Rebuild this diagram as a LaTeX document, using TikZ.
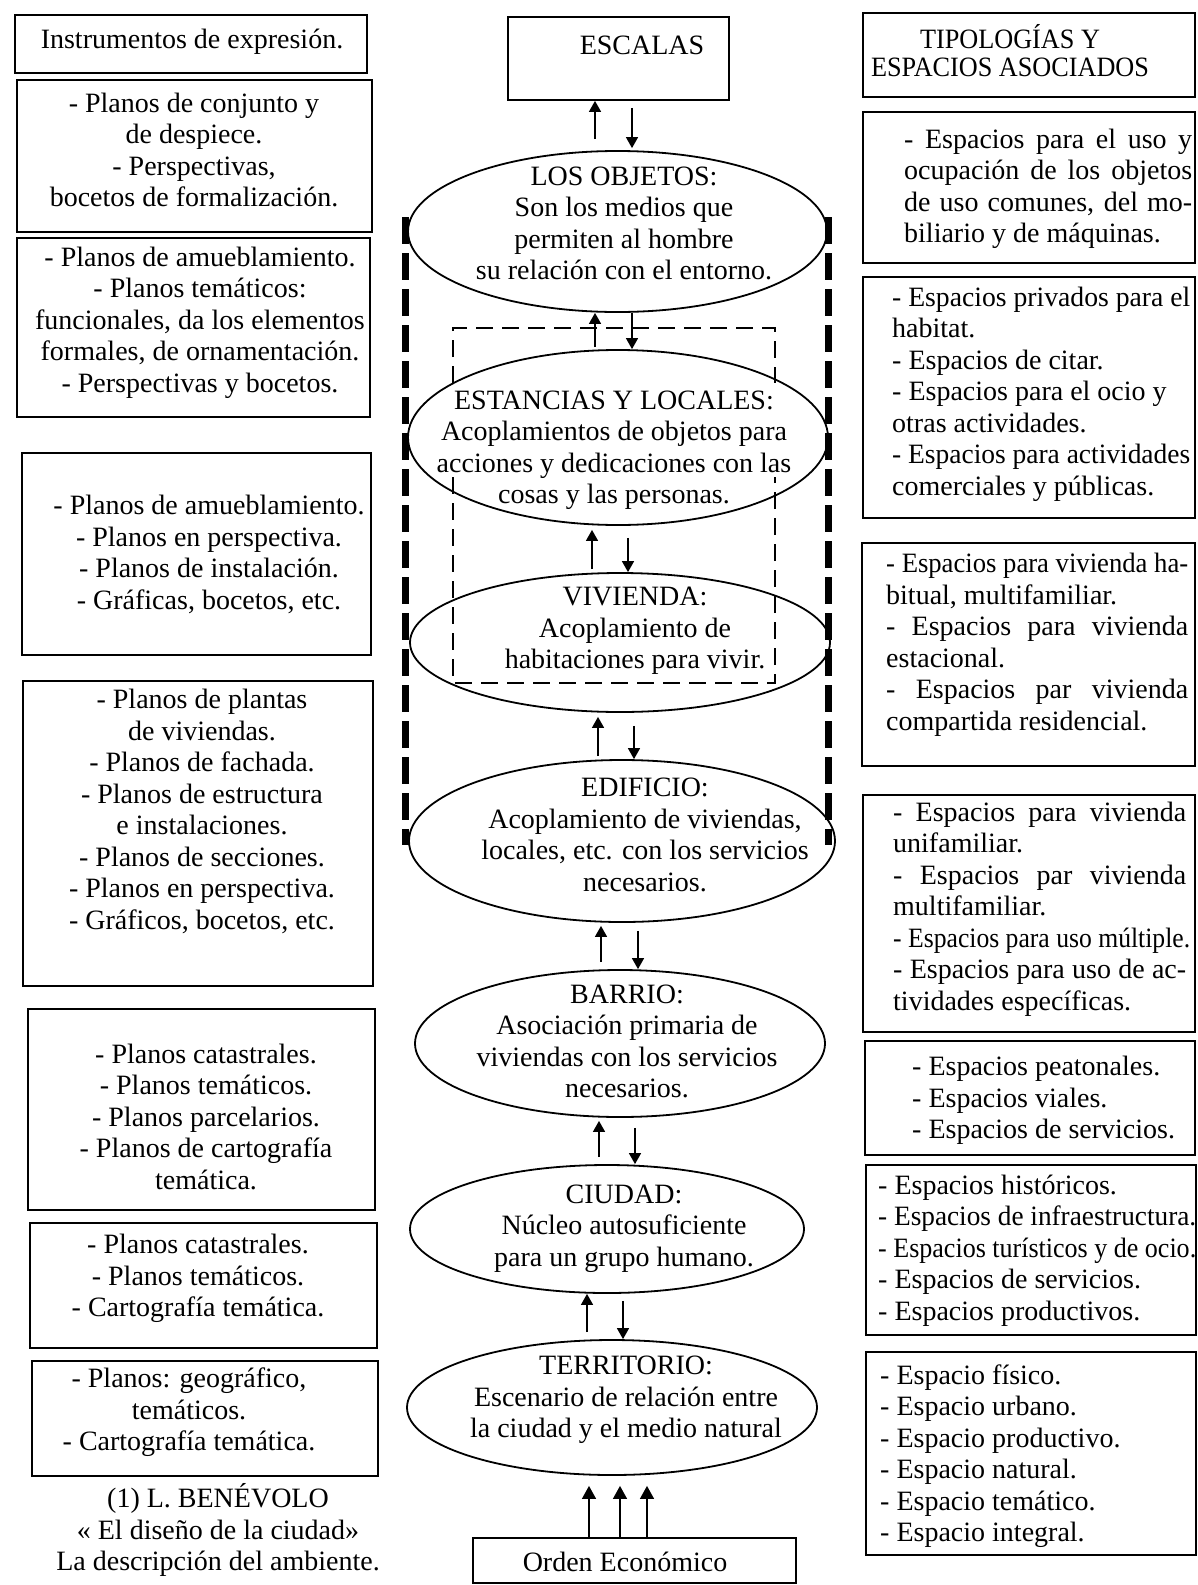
\documentclass[tikz,border=0pt]{standalone}
\usepackage{fontspec}
\usepackage{graphicx}
\setmainfont{Liberation Serif}
\usetikzlibrary{shapes.geometric,arrows.meta,fit}
\newlength\linetmpw
\newcommand\fitto[2]{\settowidth\linetmpw{#2}\ifdim\linetmpw>#1\relax\resizebox{#1}{\height}{#2}\else\makebox[#1][s]{#2}\fi}
\newcommand\capto[2]{\settowidth\linetmpw{#2}\ifdim\linetmpw>#1\relax\resizebox{#1}{\height}{#2}\else#2\fi}
\begin{document}
\begin{tikzpicture}[x=1pt,y=-1pt,
  font=\fontsize{28}{31.5}\selectfont,
  box/.style={draw, line width=1.8pt, inner sep=0pt},
  ell/.style={draw, ellipse, line width=1.8pt, inner sep=0pt},
  txt/.style={inner sep=0pt, align=center},
  ltxt/.style={inner sep=0pt, align=left, anchor=west},
  arr/.style={line width=1.4pt, -{Triangle[length=11pt,width=12pt]}},
  arrbig/.style={line width=1.4pt, -{Triangle[length=13pt,width=14pt]}},
  thickdash/.style={line width=7pt, dash pattern=on 27pt off 9pt},
  thindash/.style={line width=1.8pt, dash pattern=on 17pt off 9pt}]
\fill[white] (0,0) rectangle (1198,1585);
\useasboundingbox (0,0) rectangle (1198,1585);

% ---------- left column ----------
\node[box, fit={(15,15) (367,73)}] (L1) {};
\node[txt] (L1t) at (192,42) {Instrumentos de expresión.};
\node[box, fit={(17,80) (372,232)}] (L2) {};
\node[txt] (L2t) at (194,150) {- Planos de conjunto y\\ de despiece.\\ - Perspectivas,\\ bocetos de formalización.};
\node[box, fit={(17,238) (370,417)}] (L3) {};
\node[txt] (L3t) at (200,322.5) {- Planos de amueblamiento.\\ - Planos temáticos:\\ funcionales, da los elementos\\ formales, de ornamentación.\\ - Perspectivas y bocetos.};
\node[box, fit={(22,453) (371,655)}] (L4) {};
\node[txt] (L4t) at (209,554.5) {- Planos de amueblamiento.\\ - Planos en perspectiva.\\ - Planos de instalación.\\ - Gráficas, bocetos, etc.};
\node[box, fit={(23,681) (373,986)}] (L5) {};
\node[txt] (L5t) at (202,811.5) {- Planos de plantas\\ de viviendas.\\ - Planos de fachada.\\ - Planos de estructura\\ e instalaciones.\\ - Planos de secciones.\\ - Planos en perspectiva.\\ - Gráficos, bocetos, etc.};
\node[box, fit={(28,1009) (375,1210)}] (L6) {};
\node[txt] (L6t) at (206,1116.5) {- Planos catastrales.\\ - Planos temáticos.\\ - Planos parcelarios.\\ - Planos de cartografía\\ temática.};
\node[box, fit={(30,1223) (377,1348)}] (L7) {};
\node[txt] (L7t) at (198,1278.5) {- Planos catastrales.\\ - Planos temáticos.\\ - Cartografía temática.};
\node[box, fit={(32,1361) (378,1476)}] (L8) {};
\node[txt] (L8t) at (189,1412.5) {- Planos: geográfico,\\ temáticos.\\ - Cartografía temática.};
\node[txt] (foot) at (218,1530) {(1) L. BENÉVOLO\\ « El diseño de la ciudad»\\ La descripción del ambiente.};

% ---------- right column ----------
\node[box, fit={(863,13) (1195,97)}] (R1) {};
\node[txt, font=\fontsize{28}{28}\selectfont] (R1t) at (1010,51) {\capto{180pt}{TIPOLOGÍAS Y}\\ \capto{278pt}{ESPACIOS ASOCIADOS}};
\node[box, fit={(863,112) (1195,263)}] (R2) {};
\node[ltxt] (R2t) at (904,189) {\fitto{288pt}{- Espacios para el uso y}\\ \fitto{288pt}{ocupación de los objetos}\\ \fitto{288pt}{de uso comunes, del mo-}\\ biliario y de máquinas.};
\node[box, fit={(863,277) (1195,518)}] (R3) {};
\node[ltxt] (R3t) at (892,394) {\capto{298pt}{- Espacios privados para el}\\ habitat.\\ - Espacios de citar.\\ - Espacios para el ocio y\\ otras actividades.\\ \capto{298pt}{- Espacios para actividades}\\ comerciales y públicas.};
\node[box, fit={(862,543) (1195,766)}] (R4) {};
\node[ltxt] (R4t) at (886,645) {\capto{302pt}{- Espacios para vivienda ha-}\\ bitual, multifamiliar.\\ \fitto{302pt}{- Espacios para vivienda}\\ estacional.\\ \fitto{302pt}{- Espacios par vivienda}\\ compartida residencial.};
\node[box, fit={(863,795) (1195,1032)}] (R5) {};
\node[ltxt] (R5t) at (893,909) {\fitto{293pt}{- Espacios para vivienda}\\ unifamiliar.\\ \fitto{293pt}{- Espacios par vivienda}\\ multifamiliar.\\ \capto{297pt}{- Espacios para uso múltiple.}\\ \fitto{293pt}{- Espacios para uso de ac-}\\ tividades específicas.};
\node[box, fit={(865,1041) (1195,1155)}] (R6) {};
\node[ltxt] (R6t) at (912,1100.5) {- Espacios peatonales.\\ - Espacios viales.\\ - Espacios de servicios.};
\node[box, fit={(866,1165) (1196,1335)}] (R7) {};
\node[ltxt] (R7t) at (878,1250.5) {- Espacios históricos.\\ \capto{318pt}{- Espacios de infraestructura.}\\ \capto{318pt}{- Espacios turísticos y de ocio.}\\ - Espacios de servicios.\\ - Espacios productivos.};
\node[box, fit={(866,1352) (1196,1555)}] (R8) {};
\node[ltxt] (R8t) at (880,1456) {- Espacio físico.\\ - Espacio urbano.\\ - Espacio productivo.\\ - Espacio natural.\\ - Espacio temático.\\ - Espacio integral.};

% ---------- dashed frames ----------
\coordinate (tdL1) at (405,217); \coordinate (tdL2) at (405,845);
\coordinate (tdR1) at (828,217); \coordinate (tdR2) at (828,845);
\draw[thickdash] (tdL1) -- (tdL2);
\draw[thickdash] (tdR1) -- (tdR2);
\coordinate (da1) at (453,383); \coordinate (da2) at (453,328);
\coordinate (da3) at (775,328); \coordinate (da4) at (775,383);
\coordinate (db1) at (453,477); \coordinate (db2) at (453,683);
\coordinate (db3) at (775,683); \coordinate (db4) at (775,477);
\draw[thindash] (da1) -- (da2) -- (da3) -- (da4);
\draw[thindash] (db1) -- (db2) -- (db3) -- (db4);

% ---------- centre column ----------
\node[box, fit={(508,17) (729,100)}] (esc) {};
\node[txt] (esct) at (642,45) {ESCALAS};
\node[ell, minimum width=419pt, minimum height=161pt] (obj) at (617.5,231.5) {};
\node[txt] (objt) at (624,223.5) {LOS OBJETOS:\\ Son los medios que\\ permiten al hombre\\ su relación con el entorno.};
\node[ell, minimum width=420pt, minimum height=175pt] (est) at (618,437.5) {};
\node[txt] (estt) at (614,450) {ESTANCIAS Y LOCALES:\\ Acoplamientos de objetos para\\ acciones y dedicaciones con las\\ cosas y las personas.};
\node[ell, minimum width=420pt, minimum height=139pt] (viv) at (620,642.5) {};
\node[txt] (vivt) at (635,631) {VIVIENDA:\\ Acoplamiento de\\ habitaciones para vivir.};
\node[ell, minimum width=426pt, minimum height=162pt] (edi) at (622,841) {};
\node[txt] (edit) at (645,835) {EDIFICIO:\\ Acoplamiento de viviendas,\\ locales, etc. con los servicios\\ necesarios.};
\node[ell, minimum width=410pt, minimum height=147pt] (bar) at (620,1043.5) {};
\node[txt] (bart) at (627,1041.5) {BARRIO:\\ Asociación primaria de\\ viviendas con los servicios\\ necesarios.};
\node[ell, minimum width=394pt, minimum height=128pt] (ciu) at (607,1229) {};
\node[txt] (ciut) at (624,1228.5) {CIUDAD:\\ Núcleo autosuficiente\\ para un grupo humano.};
\node[ell, minimum width=410pt, minimum height=135pt] (ter) at (612,1407.5) {};
\node[txt] (tert) at (626,1400) {TERRITORIO:\\ Escenario de relación entre\\ la ciudad y el medio natural};
\node[box, fit={(473,1538) (796,1583)}] (ord) {};
\node[txt] (ordt) at (625,1562) {Orden Económico};

% ---------- arrows ----------
\draw[arr, shorten <=11pt] ([xshift=-22.5pt]obj.north) -- ([xshift=-23.5pt]esc.south);
\draw[arr, shorten <=7pt, shorten >=2pt] ([xshift=13.5pt]esc.south) -- ([xshift=14.5pt]obj.north);
\draw[arr, shorten <=2pt] ([xshift=-23pt]est.north) -- ([xshift=-22.5pt]obj.south);
\draw[arr] ([xshift=14.5pt]obj.south) -- ([xshift=14pt]est.north);
\draw[arr, shorten <=3pt, shorten >=4pt] ([xshift=-28pt]viv.north) -- ([xshift=-26pt]est.south);
\draw[arr, shorten <=12pt] ([xshift=10pt]est.south) -- ([xshift=8pt]viv.north);
\draw[arr, shorten <=3pt, shorten >=4pt] ([xshift=-24pt]edi.north) -- ([xshift=-22pt]viv.south);
\draw[arr, shorten <=13pt] ([xshift=14pt]viv.south) -- ([xshift=12pt]edi.north);
\draw[arr, shorten <=7pt, shorten >=3pt] ([xshift=-19pt]bar.north) -- ([xshift=-21pt]edi.south);
\draw[arr, shorten <=8pt] ([xshift=16pt]edi.south) -- ([xshift=18pt]bar.north);
\draw[arr, shorten <=7pt, shorten >=3pt] ([xshift=-8pt]ciu.north) -- ([xshift=-21pt]bar.south);
\draw[arr, shorten <=10pt] ([xshift=15pt]bar.south) -- ([xshift=28pt]ciu.north);
\draw[arr, shorten <=7pt] ([xshift=-25pt]ter.north) -- ([xshift=-20pt]ciu.south);
\draw[arr, shorten <=7pt] ([xshift=16pt]ciu.south) -- ([xshift=11pt]ter.north);
\draw[arrbig, shorten >=10pt] ([xshift=-45.5pt]ord.north) -- ([xshift=-23pt]ter.south);
\draw[arrbig, shorten >=10pt] ([xshift=-14.5pt]ord.north) -- ([xshift=8pt]ter.south);
\draw[arrbig, shorten >=10pt] ([xshift=12.5pt]ord.north) -- ([xshift=35pt]ter.south);
\end{tikzpicture}
\end{document}
